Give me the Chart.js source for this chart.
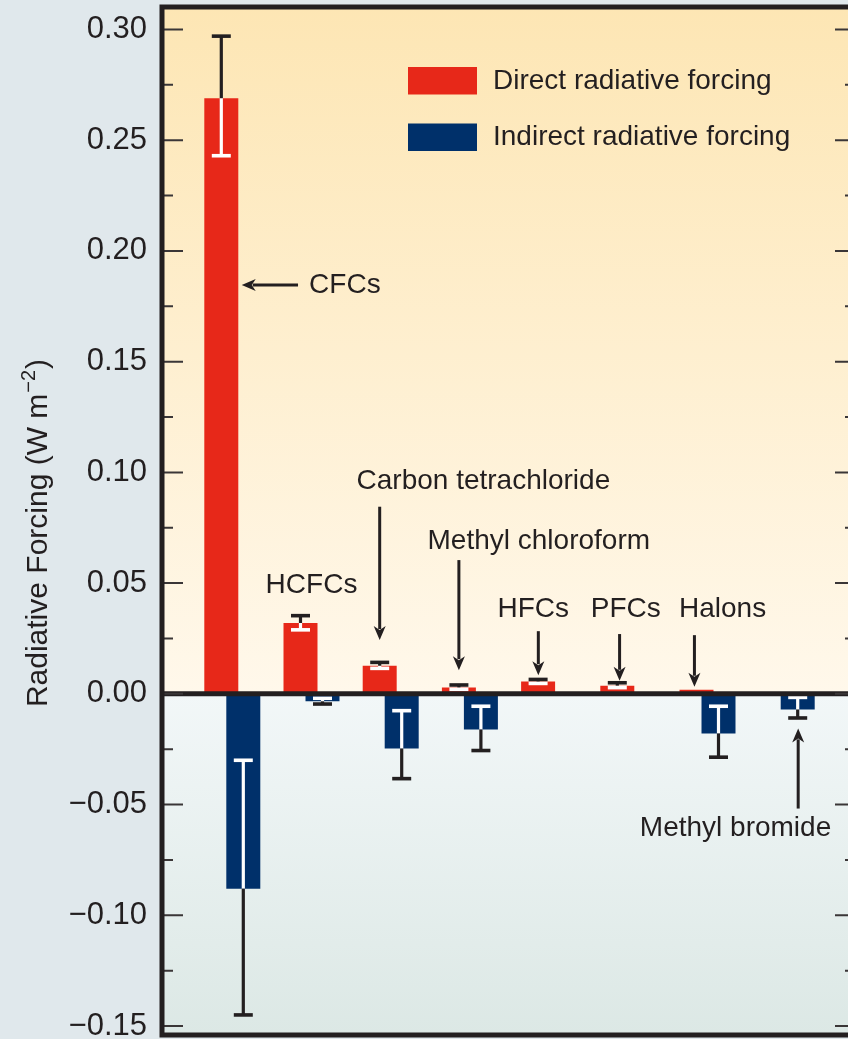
<!DOCTYPE html>
<html>
<head>
<meta charset="utf-8">
<script src="https://cdn.jsdelivr.net/npm/chart.js@4"></script>
<style>
    html, body { margin: 0; padding: 0; background: #e0e8ec; overflow: hidden; }
    #wrap { width: 848px; height: 1039px; overflow: hidden; }
</style>
</head>
<body>
<div id="wrap"><canvas id="forcing-chart" width="860" height="1039"></canvas></div>
<script>
// Halocarbon groups along the x axis
var gases = ["CFCs", "HCFCs", "Carbon tetrachloride", "Methyl chloroform",
    "HFCs", "PFCs", "Halons", "Methyl bromide"];

// Direct radiative forcing (W m-2) and its uncertainty range
var directForcing = [0.269, 0.032, 0.0127, 0.0029, 0.0056, 0.0037, 0.0018, null];
var directLow = [0.243, 0.0289, 0.0115, 0.0020, 0.0047, 0.0028, null, null];
var directHigh = [0.297, 0.0353, 0.0142, 0.0040, 0.0065, 0.0050, null, null];

// Indirect radiative forcing (W m-2) and its uncertainty range
var indirectForcing = [-0.088, -0.0034, -0.0247, -0.0161, null, null, -0.0179, -0.0071];
var indirectLow = [-0.145, -0.0046, -0.0383, -0.0256, null, null, -0.0286, -0.0109];
var indirectHigh = [-0.030, -0.0020, -0.0076, -0.0056, null, null, -0.0056, -0.0016];

var yTicks = [-0.15, -0.10, -0.05, 0.00, 0.05, 0.10, 0.15, 0.20, 0.25, 0.30];

var FONT = "'Liberation Sans', Arial, Helvetica, sans-serif";
var INK = "#231f20";

function toPoints(values) {
    return values.map(function (v, i) { return { x: i, y: v }; });
}

// Labels and arrows inside the plot, in data units
var callouts = [
    { text: gases[0], x: 0.97, y: 0.1846, align: "left",
      arrow: { x1: 0.83, y1: 0.1846, x2: 0.119, y2: 0.1846 } },
    { text: gases[1], x: 1.0, y: 0.0489, align: "center" },
    { text: gases[2], x: 3.17, y: 0.0961, align: "center",
      arrow: { x1: 1.861, y1: 0.0845, x2: 1.861, y2: 0.0243 } },
    { text: gases[3], x: 3.87, y: 0.0687, align: "center",
      arrow: { x1: 2.861, y1: 0.0604, x2: 2.861, y2: 0.0107 } },
    { text: gases[4], x: 3.80, y: 0.0383, align: "center",
      arrow: { x1: 3.864, y1: 0.0283, x2: 3.864, y2: 0.0084 } },
    { text: gases[5], x: 4.968, y: 0.0383, align: "center",
      arrow: { x1: 4.89, y1: 0.0270, x2: 4.89, y2: 0.0059 } },
    { text: gases[6], x: 6.19, y: 0.0383, align: "center",
      arrow: { x1: 5.835, y1: 0.0265, x2: 5.835, y2: 0.0032 } },
    { text: gases[7], x: 6.354, y: -0.0607, align: "center",
      arrow: { x1: 7.145, y1: -0.0518, x2: 7.145, y2: -0.0156 } }
];

function drawArrow(ctx, x1, y1, x2, y2) {
    var ang = Math.atan2(y2 - y1, x2 - x1);
    var head = 14, half = 6;
    var bx = x2 - Math.cos(ang) * head, by = y2 - Math.sin(ang) * head;
    ctx.strokeStyle = INK;
    ctx.fillStyle = INK;
    ctx.lineWidth = 3;
    ctx.beginPath();
    ctx.moveTo(x1, y1);
    ctx.lineTo(bx + Math.cos(ang) * 3, by + Math.sin(ang) * 3);
    ctx.stroke();
    ctx.beginPath();
    ctx.moveTo(x2, y2);
    ctx.lineTo(bx - Math.sin(ang) * half, by + Math.cos(ang) * half);
    ctx.lineTo(bx + Math.cos(ang) * 4, by + Math.sin(ang) * 4);
    ctx.lineTo(bx + Math.sin(ang) * half, by - Math.cos(ang) * half);
    ctx.closePath();
    ctx.fill();
}

var panelPlugin = {
    id: "panel",
    beforeDraw: function (chart) {
        var ctx = chart.ctx, a = chart.chartArea, y = chart.scales.y;
        var zero = y.getPixelForValue(0);
        ctx.save();
        ctx.fillStyle = "#e0e8ec";
        ctx.fillRect(0, 0, chart.width, chart.height);
        var warm = ctx.createLinearGradient(0, a.top, 0, zero);
        warm.addColorStop(0, "#fde6b4");
        warm.addColorStop(1, "#fff8eb");
        ctx.fillStyle = warm;
        ctx.fillRect(a.left, a.top, a.right - a.left, zero - a.top);
        var cool = ctx.createLinearGradient(0, zero, 0, a.bottom);
        cool.addColorStop(0, "#f2f7f8");
        cool.addColorStop(1, "#dce8e5");
        ctx.fillStyle = cool;
        ctx.fillRect(a.left, zero, a.right - a.left, a.bottom - zero);
        ctx.restore();
    },
    afterDatasetsDraw: function (chart) {
        var ctx = chart.ctx, a = chart.chartArea;
        var xs = chart.scales.x, ys = chart.scales.y;
        ctx.save();

        // error bars: white inside the bar, black outside it
        var ranges = [[directLow, directHigh], [indirectLow, indirectHigh]];
        chart.data.datasets.forEach(function (ds, di) {
            var meta = chart.getDatasetMeta(di);
            meta.data.forEach(function (bar, i) {
                var v = ds.data[i].y;
                var lo = ranges[di][0][i], hi = ranges[di][1][i];
                if (v === null || lo === null || hi === null) return;
                var outer = v >= 0 ? hi : lo, inner = v >= 0 ? lo : hi;
                var yv = ys.getPixelForValue(v);
                [[inner, "#ffffff"], [outer, INK]].forEach(function (seg) {
                    var ye = ys.getPixelForValue(seg[0]);
                    ctx.strokeStyle = seg[1];
                    ctx.lineWidth = 3.2;
                    ctx.beginPath();
                    ctx.moveTo(bar.x, yv);
                    ctx.lineTo(bar.x, ye);
                    ctx.stroke();
                    ctx.lineWidth = 3.6;
                    ctx.beginPath();
                    ctx.moveTo(bar.x - 9.5, ye);
                    ctx.lineTo(bar.x + 9.5, ye);
                    ctx.stroke();
                });
            });
        });

        // zero line
        var zero = ys.getPixelForValue(0);
        ctx.strokeStyle = INK;
        ctx.lineWidth = 5;
        ctx.beginPath();
        ctx.moveTo(a.left, zero);
        ctx.lineTo(a.right, zero);
        ctx.stroke();

        // inward tick marks on both sides, minor ones halfway
        ctx.strokeStyle = "#3a3637";
        ctx.lineWidth = 2;
        for (var t = -0.15; t <= 0.3001; t += 0.025) {
            var py = ys.getPixelForValue(t);
            var major = Math.abs(Math.round(t / 0.05) * 0.05 - t) < 1e-6;
            var len = major ? 21 : 11;
            ctx.beginPath();
            ctx.moveTo(a.left, py);
            ctx.lineTo(a.left + len, py);
            ctx.moveTo(a.right, py);
            ctx.lineTo(a.right - len, py);
            ctx.stroke();
        }

        // frame
        ctx.lineWidth = 5;
        ctx.strokeStyle = INK;
        ctx.strokeRect(a.left, a.top, a.right - a.left, a.bottom - a.top);

        // callouts
        ctx.font = "28px " + FONT;
        ctx.fillStyle = INK;
        ctx.textBaseline = "middle";
        callouts.forEach(function (c) {
            ctx.textAlign = c.align;
            ctx.fillText(c.text, xs.getPixelForValue(c.x), ys.getPixelForValue(c.y));
            if (c.arrow) {
                drawArrow(ctx,
                    xs.getPixelForValue(c.arrow.x1), ys.getPixelForValue(c.arrow.y1),
                    xs.getPixelForValue(c.arrow.x2), ys.getPixelForValue(c.arrow.y2));
            }
        });

        // legend
        ctx.textAlign = "left";
        chart.data.datasets.forEach(function (ds, di) {
            var top = a.top + 60 + di * 56.5;
            ctx.fillStyle = ds.backgroundColor;
            ctx.fillRect(a.left + 246, top, 69, 27.5);
            ctx.fillStyle = INK;
            ctx.fillText(ds.label, a.left + 331, top + 14);
        });

        // y axis title with superscript unit
        var main = "Radiative Forcing (W m", sup = "\u22122", tail = ")";
        ctx.font = "30px " + FONT;
        var wMain = ctx.measureText(main).width, wTail = ctx.measureText(tail).width;
        ctx.font = "20px " + FONT;
        var wSup = ctx.measureText(sup).width;
        var total = wMain + wSup + wTail + 2;
        ctx.translate(37, 533);
        ctx.rotate(-Math.PI / 2);
        ctx.fillStyle = INK;
        ctx.textAlign = "left";
        ctx.textBaseline = "alphabetic";
        var x0 = -total / 2;
        ctx.font = "30px " + FONT;
        ctx.fillText(main, x0, 10);
        ctx.font = "20px " + FONT;
        ctx.fillText(sup, x0 + wMain + 1, -2);
        ctx.font = "30px " + FONT;
        ctx.fillText(tail, x0 + wMain + wSup + 2, 10);
        ctx.restore();
    }
};

var forcingCtx = document.getElementById("forcing-chart").getContext("2d");

var forcingChart = new Chart(forcingCtx, {
    type: "bar",
    data: {
        datasets: [
            {
                label: "Direct radiative forcing",
                data: toPoints(directForcing),
                backgroundColor: "#e72819",
                borderWidth: 0
            },
            {
                label: "Indirect radiative forcing",
                data: toPoints(indirectForcing),
                backgroundColor: "#00306a",
                borderWidth: 0
            }
        ]
    },
    options: {
        responsive: false,
        animation: false,
        events: [],
        categoryPercentage: 0.5556,
        barPercentage: 1.545,
        layout: { padding: { top: 7, bottom: 4, left: 0, right: 4 } },
        plugins: {
            legend: { display: false },
            tooltip: { enabled: false }
        },
        scales: {
            x: {
                type: "linear",
                display: false,
                offset: false,
                min: -0.8876,
                max: 7.875,
                afterBuildTicks: function (scale) {
                    scale.ticks = gases.map(function (g, i) { return { value: i }; });
                }
            },
            y: {
                min: -0.15406,
                max: 0.31016,
                afterFit: function (scale) {
                    scale.width = 162;
                    scale.paddingTop = 0;
                    scale.paddingBottom = 0;
                },
                afterBuildTicks: function (scale) {
                    scale.ticks = yTicks.map(function (v) { return { value: v }; });
                },
                grid: { display: false, drawTicks: false },
                border: { display: false },
                ticks: {
                    padding: 15,
                    color: INK,
                    font: { family: FONT, size: 31 },
                    callback: function (v) {
                        return (v < -1e-9 ? "\u2212" : "") + Math.abs(v).toFixed(2);
                    }
                }
            }
        }
    },
    plugins: [panelPlugin]
});
</script>
</body>
</html>
